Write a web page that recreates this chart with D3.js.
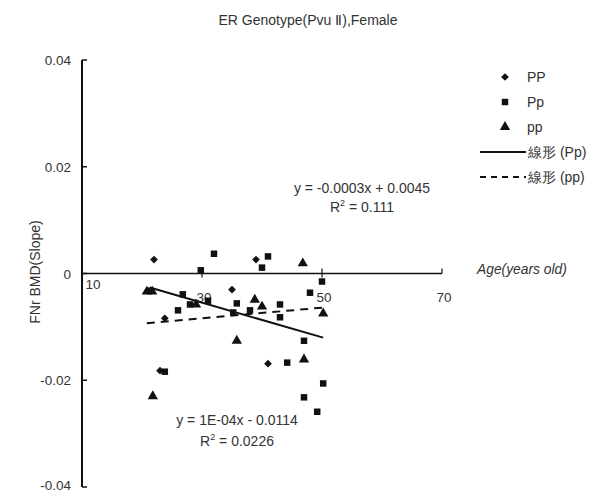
<!DOCTYPE html>
<html>
<head>
<meta charset="utf-8">
<script src="https://cdn.jsdelivr.net/npm/d3@7"></script>
<style>
  body { margin: 0; background: #fff; }
  svg { font-family: "Liberation Sans", Arial, sans-serif; }
</style>
</head>
<body>
<div id="chart"></div>
<script>
const width = 593;
const height = 492;

// data: [age, slope]
const ppUpper = [[22.0, 0.0026], [35.0, -0.0030], [39.0, 0.0026], [23.0, -0.0182], [23.8, -0.0084], [41.0, -0.0169]];
const ppMixed = [[21.3, -0.0032], [32.0, 0.0037], [29.8, 0.0006], [41.0, 0.0032], [40.0, 0.0011], [50.0, -0.0015],
                 [48.0, -0.0036], [26.8, -0.0039], [28.0, -0.0058], [26.0, -0.0069], [31.0, -0.0051], [35.8, -0.0056],
                 [35.2, -0.0073], [38.0, -0.0069], [43.0, -0.0058], [43.0, -0.0082], [47.0, -0.0126], [44.2, -0.0167],
                 [50.2, -0.0206], [47.0, -0.0232], [49.2, -0.0259], [23.8, -0.0184]];
const ppLower = [[20.8, -0.0034], [21.7, -0.0034], [46.8, 0.0019], [38.8, -0.0049], [40.0, -0.0062], [35.8, -0.0126],
                 [47.0, -0.0161], [21.8, -0.0230], [50.2, -0.0075], [29.0, -0.0058]];

// trend lines: [xStart, xEnd, slope, intercept]
const trendPp = [21.3, 50.2, -0.000325, 0.0043];
const trendpp = [20.8, 50.0, 0.0001, -0.0114];

const xTicks = [10, 30, 50, 70];
const yTicks = [0.04, 0.02, 0, -0.02, -0.04];
const legendLabels = ["PP", "Pp", "pp", "線形 (Pp)", "線形 (pp)"];

const svg = d3.select("#chart").append("svg")
    .attr("width", width)
    .attr("height", height);

const x = d3.scaleLinear().domain([10, 70]).range([82, 442]);
const y = d3.scaleLinear().domain([-0.04, 0.04]).range([487, 60]);

const ink = "#111";
const txt = "#333";

// title
svg.append("text")
    .attr("x", 308).attr("y", 25)
    .attr("text-anchor", "middle")
    .attr("font-size", 14)
    .attr("fill", txt)
    .text("ER Genotype(Pvu \u2161),Female");

// y axis
svg.append("line")
    .attr("x1", x(10)).attr("x2", x(10))
    .attr("y1", y(0.04)).attr("y2", y(-0.04))
    .attr("stroke", ink).attr("stroke-width", 2);

svg.selectAll(".ytick").data(yTicks).enter().append("line")
    .attr("x1", x(10)).attr("x2", x(10) + 5)
    .attr("y1", d => y(d)).attr("y2", d => y(d))
    .attr("stroke", ink).attr("stroke-width", 1.5);

svg.selectAll(".ylab").data(yTicks).enter().append("text")
    .attr("x", 71).attr("y", d => d === -0.04 ? y(d) + 3 : y(d) + 5)
    .attr("text-anchor", "end")
    .attr("font-size", 13.5)
    .attr("fill", txt)
    .text(d => d === 0 ? "0" : d3.format(".2f")(d).replace("−", "-"));

svg.append("text")
    .attr("transform", "translate(40,272) rotate(-90)")
    .attr("text-anchor", "middle")
    .attr("font-size", 14)
    .attr("fill", txt)
    .text("FNr BMD(Slope)");

// x axis on zero
svg.append("line")
    .attr("x1", x(10)).attr("x2", x(70))
    .attr("y1", y(0)).attr("y2", y(0))
    .attr("stroke", ink).attr("stroke-width", 1.5);

svg.selectAll(".xtick").data(xTicks.slice(1)).enter().append("line")
    .attr("x1", d => x(d)).attr("x2", d => x(d))
    .attr("y1", y(0) - 5).attr("y2", d => d === 70 ? y(0) : y(0) + 4)
    .attr("stroke", ink).attr("stroke-width", 1.2);

svg.selectAll(".xlab").data(xTicks).enter().append("text")
    .attr("x", d => d === 10 ? x(d) + 11 : x(d) + 2)
    .attr("y", d => d === 10 ? y(0) + 15 : y(0) + 28)
    .attr("text-anchor", "middle")
    .attr("font-size", 13.5)
    .attr("fill", txt)
    .text(d => d);

svg.append("text")
    .attr("x", 477).attr("y", y(0))
    .attr("font-size", 13.8)
    .attr("font-style", "italic")
    .attr("fill", txt)
    .text("Age(years old)");

// trend lines
function trendLine(t, dash) {
    svg.append("line")
        .attr("x1", x(t[0])).attr("y1", y(t[2] * t[0] + t[3]))
        .attr("x2", x(t[1])).attr("y2", y(t[2] * t[1] + t[3]))
        .attr("stroke", ink).attr("stroke-width", 2)
        .attr("stroke-dasharray", dash);
}
trendLine(trendPp, null);
trendLine(trendpp, "8,6");

// points
const square = d3.symbol().type(d3.symbolSquare).size(42);
const diamond = d3.symbol().type(d3.symbolSquare).size(30);
const triangle = d3.symbol().type(d3.symbolTriangle).size(46);

function drawPoints(data, sym, rot) {
    svg.append("g").selectAll("path").data(data).enter().append("path")
        .attr("d", sym)
        .attr("transform", d => `translate(${x(d[0])},${y(d[1])}) rotate(${rot})`)
        .attr("fill", ink);
}
drawPoints(ppUpper, diamond, 45);
drawPoints(ppMixed, square, 0);
drawPoints(ppLower, triangle, 0);

// equations
function equation(cx, cy, gap, eq, r2) {
    svg.append("text")
        .attr("x", cx).attr("y", cy)
        .attr("text-anchor", "middle")
        .attr("font-size", 14)
        .attr("fill", txt)
        .text(eq);
    const t = svg.append("text")
        .attr("x", cx).attr("y", cy + gap)
        .attr("text-anchor", "middle")
        .attr("font-size", 14)
        .attr("fill", txt);
    t.append("tspan").text("R");
    t.append("tspan").attr("font-size", 9).attr("dy", -6).text("2");
    t.append("tspan").attr("dy", 6).text(" = " + r2);
}
equation(362, 193, 19, "y = -0.0003x + 0.0045", "0.111");
equation(237, 425, 21, "y = 1E-04x - 0.0114", "0.0226");

// legend
const legend = svg.append("g");
const legendSyms = [[diamond, 45], [square, 0], [triangle, 0]];
legendSyms.forEach((s, i) => {
    const ly = 77 + i * 25;
    legend.append("path")
        .attr("d", s[0])
        .attr("transform", `translate(505,${ly}) rotate(${s[1]})`)
        .attr("fill", ink);
    legend.append("text")
        .attr("x", 527).attr("y", ly + 5)
        .attr("font-size", 14)
        .attr("fill", txt)
        .text(legendLabels[i]);
});
[[152, null], [177, "6,5"]].forEach((l, i) => {
    legend.append("line")
        .attr("x1", 480).attr("x2", 526)
        .attr("y1", l[0]).attr("y2", l[0])
        .attr("stroke", ink).attr("stroke-width", 2)
        .attr("stroke-dasharray", l[1]);
    legend.append("text")
        .attr("x", 528).attr("y", l[0] + 5)
        .attr("font-size", 14)
        .attr("fill", txt)
        .text(legendLabels[3 + i]);
});
</script>
</body>
</html>
